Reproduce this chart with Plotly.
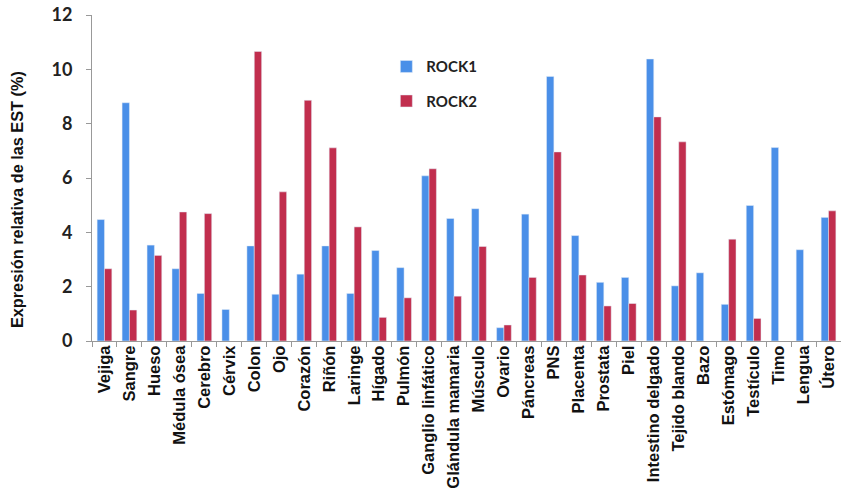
import plotly.graph_objects as go

categories = ["Vejiga", "Sangre", "Hueso", "Médula ósea", "Cerebro", "Cérvix", "Colon", "Ojo",
              "Corazón", "Riñón", "Laringe", "Hígado", "Pulmón", "Ganglio linfático",
              "Glándula mamaria", "Músculo", "Ovario", "Páncreas", "PNS", "Placenta",
              "Prostata", "Piel", "Intestino delgado", "Tejido blando", "Bazo", "Estómago",
              "Testículo", "Timo", "Lengua", "Útero"]
rock1 = [4.47, 8.77, 3.53, 2.66, 1.75, 1.16, 3.50, 1.72, 2.46, 3.50, 1.75, 3.33, 2.70, 6.08,
         4.51, 4.87, 0.49, 4.67, 9.74, 3.88, 2.16, 2.34, 10.38, 2.03, 2.51, 1.35, 4.99, 7.12,
         3.36, 4.55]
rock2 = [2.66, 1.14, 3.15, 4.75, 4.69, None, 10.66, 5.49, 8.86, 7.11, 4.20, 0.87, 1.59, 6.34,
         1.65, 3.48, 0.59, 2.34, 6.96, 2.43, 1.29, 1.38, 8.25, 7.33, None, 3.75, 0.83, None,
         None, 4.79]
y_ticks = [0, 2, 4, 6, 8, 10, 12]
series_names = ["ROCK1", "ROCK2"]

fig = go.Figure()
fig.add_trace(go.Bar(x=categories, y=rock1, name="<b>%s</b>" % series_names[0],
                     marker_color="#4A8FE8", legendgroup="a"))
fig.add_trace(go.Bar(x=categories, y=rock2, name="<b>%s</b>" % series_names[1],
                     marker_color="#C12E4E", legendgroup="b"))

fig.update_layout(
    width=841, height=489,
    margin=dict(l=92, r=0, t=15, b=148),
    plot_bgcolor="white", paper_bgcolor="white",
    barmode="group", bargap=0.41, bargroupgap=0,
    showlegend=True,
    legend=dict(x=0.393, y=0.892, xanchor="left", yanchor="top",
                font=dict(family="Lato", size=15, color="#222222"),
                tracegroupgap=12, itemwidth=30, bgcolor="rgba(0,0,0,0)"),
    font=dict(family="Liberation Sans", color="#111111"),
)
fig.update_xaxes(
    automargin=False,
    tickangle=-90, tickfont=dict(family="Liberation Sans", size=16.5, color="#111111"),
    ticklabelstandoff=-3,
    showline=True, linecolor="#999999", linewidth=1,
    ticks="outside", ticklen=5, tickcolor="#999999",
    tickson="boundaries", showgrid=False,
    range=[-0.5, len(categories) - 0.5],
    ticktext=["<b>%s</b>" % c for c in categories], tickvals=categories,
)
fig.update_yaxes(
    automargin=False,
    range=[0, 12], tickvals=y_ticks, ticktext=["<b>%d</b>" % v for v in y_ticks],
    tickfont=dict(family="Lato", size=18, color="#222222"),
    ticklabelstandoff=10,
    showline=True, linecolor="#999999", linewidth=1,
    ticks="outside", ticklen=5, tickcolor="#999999",
    showgrid=False, zeroline=False,
)
fig.add_annotation(
    text="<b>Expresión relativa de las EST (%)</b>", textangle=-90,
    xref="paper", yref="paper", x=-0.1, y=0.4325, xanchor="center", yanchor="middle",
    showarrow=False, font=dict(family="Liberation Sans", size=16.3, color="#111111"),
)

fig.write_html("out.html", config={"displayModeBar": False},
               post_script="document.body.style.margin='0';")
